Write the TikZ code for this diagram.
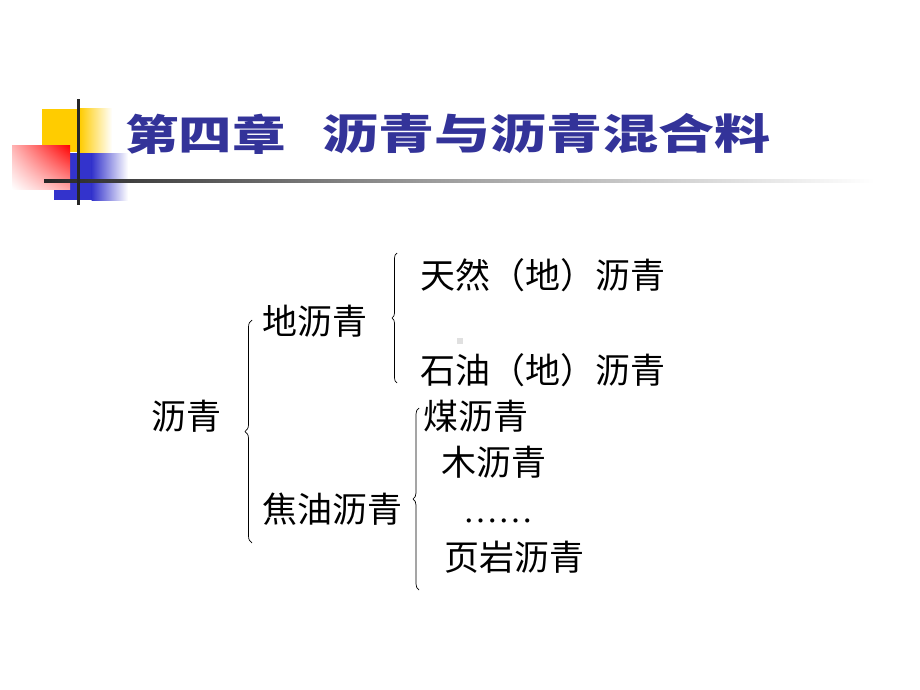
\documentclass[tikz,border=0pt]{standalone}
\usepackage{fontspec}
\setmainfont{Liberation Serif}
\newfontfamily\cjk{Noto Sans CJK SC}
\usetikzlibrary{decorations.pathreplacing,shadings}
\definecolor{titleblue}{RGB}{51,51,153}
\definecolor{decoyellow}{RGB}{255,204,0}
\definecolor{decoblue}{RGB}{51,51,204}
\begin{document}
\begin{tikzpicture}[x=1pt,y=-1pt,
  txt/.style={anchor=west,inner sep=0pt,font=\cjk\fontsize{35}{40}\selectfont},
  titletxt/.style={anchor=west,inner sep=0pt,text=titleblue,xscale=1.3,font=\cjk\bfseries\fontsize{42}{48}\selectfont},
  br/.style={decorate,decoration={brace,amplitude=#1},line width=0.7pt},
  br/.default=6pt]
\useasboundingbox (0,0) rectangle (920,690);
\fill[white] (0,0) rectangle (920,690);
% decoration squares
\fill[decoyellow] (42,109) rectangle (80,152);
\shade[left color=decoyellow,right color=white] (79.5,109) rectangle (112,152);
\fill[decoblue] (54,153) rectangle (92,200);
\shade[left color=decoblue,right color=white] (91.5,153) rectangle (128,200);
\shade[upper left=red!30!white,upper right=red,lower left=white,lower right=red!35!white] (12,145) rectangle (70,189);
% lines
\shade[left color=black!85,right color=black!40] (44,179.5) rectangle (420.5,182.5);
\shade[left color=black!40,right color=white] (420,179.5) rectangle (875,182.5);
\fill[black!85] (76.5,99) rectangle (79.5,205);
% title
\node[titletxt,xscale=0.98] (t1) at (125,134) {第四章};
\node[titletxt,xscale=1.027] (t2) at (322,134) {沥青与沥青混合料};
% body
\node[txt] (root) at (151,416) {沥青};
\node[txt] (di) at (262,321) {地沥青};
\node[txt] (jiao) at (262,509) {焦油沥青};
\node[txt] (tr) at (420,275) {天然（地）沥青};
\node[txt] (sy) at (420,370) {石油（地）沥青};
\node[txt] (mei) at (423,416) {煤沥青};
\node[txt] (mu) at (441,462) {木沥青};
\node[anchor=west,inner sep=0pt,font=\fontsize{35}{40}\selectfont] (dots) at (463,521) {……};
\node[txt] (yy) at (444,557) {页岩沥青};
% braces
\coordinate (b1t) at (252,320); \coordinate (b1b) at (252,543);
\coordinate (b2t) at (397,253); \coordinate (b2b) at (397,383);
\coordinate (b3t) at (419,408); \coordinate (b3b) at (419,590);
\draw[br=7pt] (b1b) -- (b1t);
\draw[br=5pt] (b2b) -- (b2t);
\draw[br=6pt] (b3b) -- (b3t);
% small grey mark
\fill[black!12] (457,338) rectangle (463,344);
\end{tikzpicture}
\end{document}
